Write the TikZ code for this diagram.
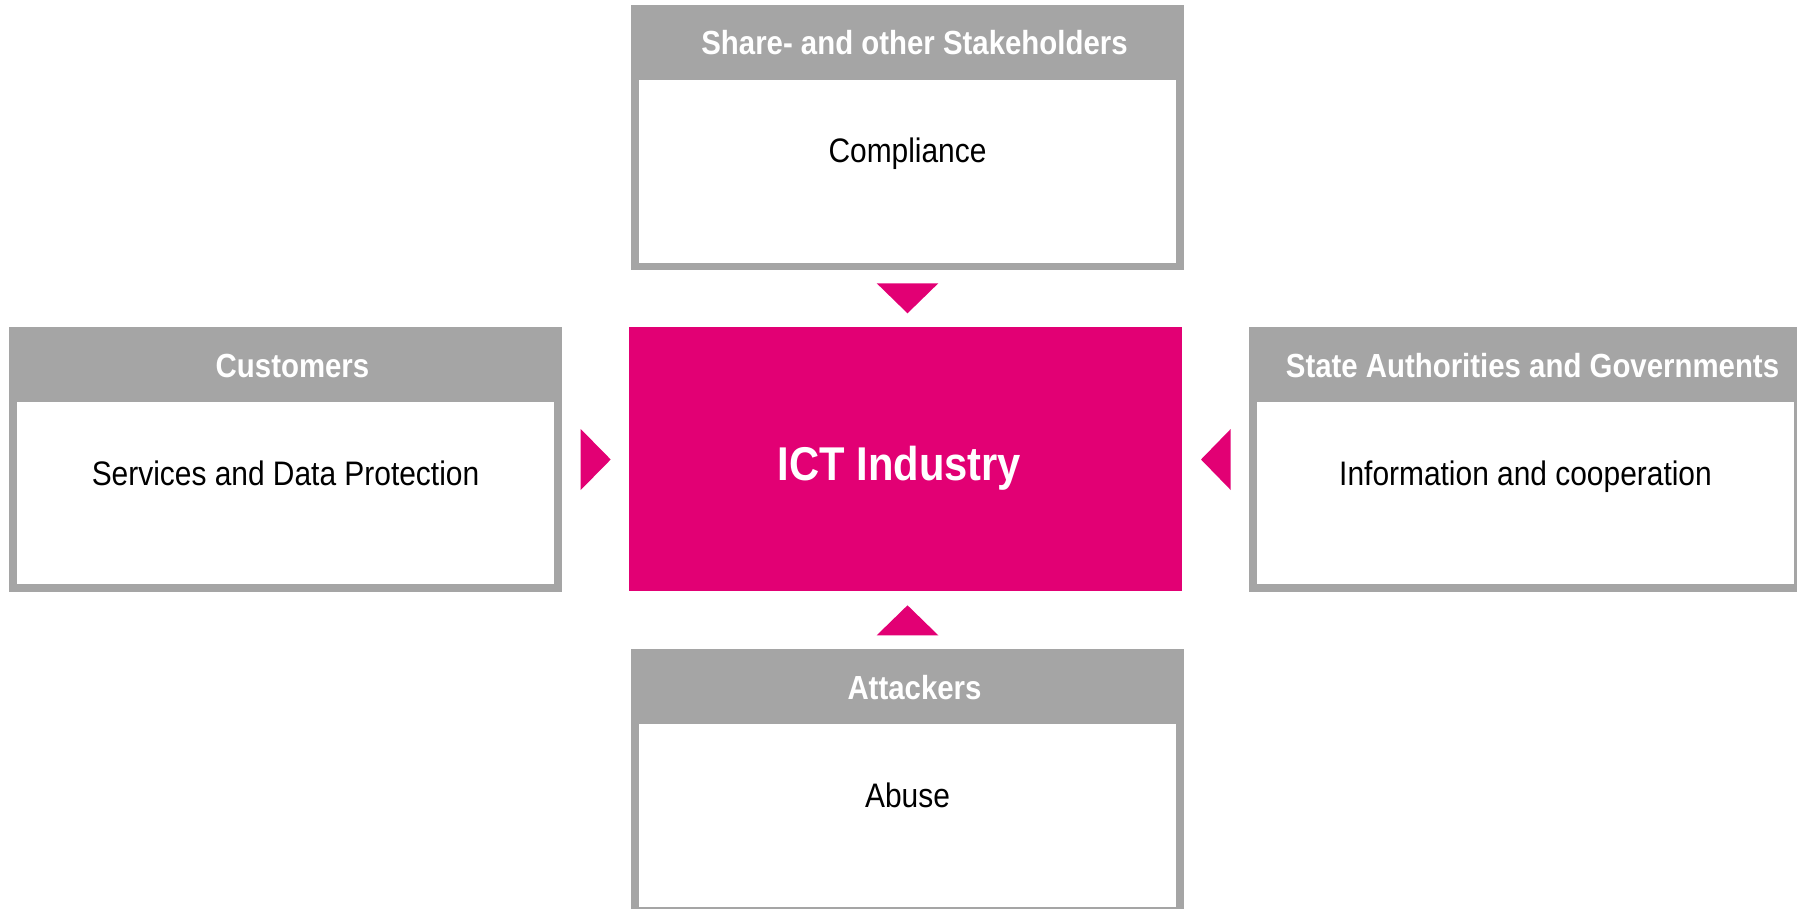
\documentclass[tikz,border=0pt]{standalone}
\usepackage{fontspec}
\setmainfont{Liberation Sans}[FakeStretch=0.88]
\definecolor{tgray}{HTML}{A5A5A5}
\definecolor{tpink}{HTML}{E20074}
\tikzset{
  headtext/.style={text=white,font=\bfseries\fontsize{16.7}{20}\selectfont,inner sep=0pt,anchor=base},
  bodytext/.style={text=black,font=\fontsize{17}{20}\selectfont,inner sep=0pt,anchor=base},
}
\begin{document}
\begin{tikzpicture}[x=0.5pt,y=-0.5pt]
        \useasboundingbox (0,0) rectangle (1797,909);
        \clip (0,0) rectangle (1797,909);
        % top box
        \fill[tgray] (631,5) rectangle +(553,265);
        \fill[white] (639,80) rectangle +(537,183);
        \node[headtext] (share) at (914.5,55) {Share- and other Stakeholders};
        \node[bodytext] (compliance) at (907.5,163) {Compliance};
        % left box
        \fill[tgray] (9,327) rectangle +(553,265);
        \fill[white] (17,402) rectangle +(537,182);
        \node[headtext] (customers) at (292.5,377.5) {Customers};
        \node[bodytext] (services) at (285.5,485) {Services and Data Protection};
        % right box
        \fill[tgray] (1249,327) rectangle +(553,265);
        \fill[white] (1257,402) rectangle +(537,182);
        \node[headtext] (state) at (1532.5,377.5) {State Authorities and Governments};
        \node[bodytext] (information) at (1525.5,485) {Information and cooperation};
        % bottom box
        \fill[tgray] (631,649) rectangle +(553,265);
        \fill[white] (639,724) rectangle +(537,183);
        \node[headtext] (attackers) at (914.5,699) {Attackers};
        \node[bodytext] (abuse) at (907.5,807) {Abuse};
        % centre
        \fill[tpink] (629,327) rectangle (1182,591);
        \node[headtext,font=\bfseries\fontsize{23.7}{28}\selectfont] (ict) at (899.5,480) {ICT Industry};
        % triangles
        \fill[tpink] (876.7,283.3) -- (938.3,283.3) -- (907.5,313.3) -- cycle;
        \fill[tpink] (876.7,635.3) -- (938.3,635.3) -- (907.5,605.3) -- cycle;
        \fill[tpink] (580.7,429) -- (580.7,490) -- (610.7,459.5) -- cycle;
        \fill[tpink] (1230.7,429) -- (1230.7,490) -- (1201,459.5) -- cycle;
    \end{tikzpicture}
\end{document}
